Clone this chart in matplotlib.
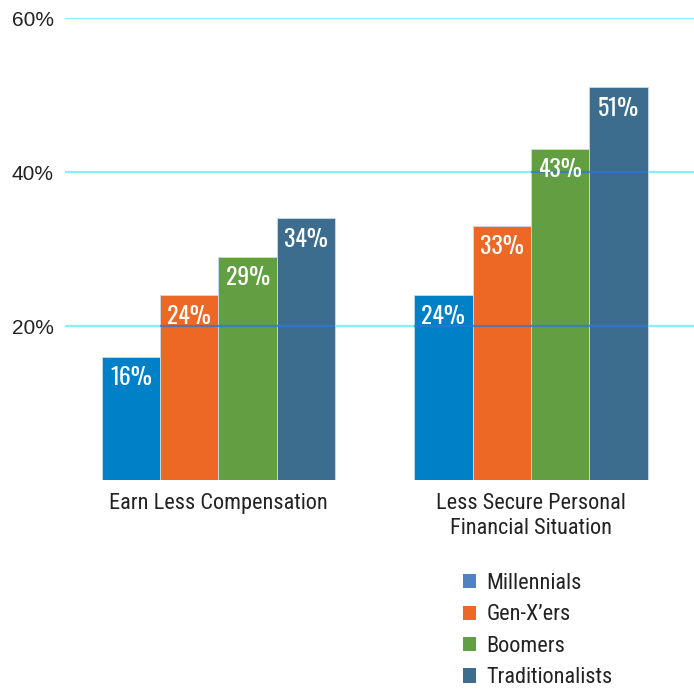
import matplotlib
matplotlib.use("Agg")
import matplotlib.pyplot as plt
from matplotlib.patches import Patch
import numpy as np

# Survey data: share of respondents by generation
categories = ["Earn Less Compensation", "Less Secure Personal\nFinancial Situation"]
generations = ["Millennials", "Gen-X\u2019ers", "Boomers", "Traditionalists"]
millennials = [16, 24]
gen_x = [24, 33]
boomers = [29, 43]
traditionalists = [34, 51]
yticks = [20, 40, 60]
ytick_labels = ["20%", "40%", "60%"]

series = [millennials, gen_x, boomers, traditionalists]
bar_colors = ["#0080c6", "#ec6824", "#629e42", "#3d6d8e"]
legend_colors = ["#4f81c7", "#ec6824", "#629e42", "#3d6d8e"]

label_font = ["Roboto Condensed", "DejaVu Sans"]
value_font = ["Oswald", "Roboto Condensed", "DejaVu Sans"]
tick_font = ["Liberation Sans", "DejaVu Sans"]
text_color = "#222222"

fig = plt.figure(figsize=(6.94, 6.89), dpi=100)
ax = fig.add_axes([65 / 694, 1 - 480 / 689, 1 - 65 / 694, (480 - 18) / 689])

x = np.arange(len(categories))
width = 0.187
offsets = (np.arange(len(series)) - 1.5) * width

containers = []
for vals, off, col in zip(series, offsets, bar_colors):
    bc = ax.bar(x + off, vals, width=width, color=col, edgecolor="#c9dcea",
                linewidth=0.6, zorder=2)
    containers.append(bc)
    for rect, v in zip(bc, vals):
        ax.annotate(f"{v}%", (rect.get_x() + rect.get_width() / 2, v),
                    xytext=(0, -15), textcoords="offset points",
                    ha="center", va="center", color="white", fontsize=17,
                    fontweight="bold", family=value_font, zorder=4)

ax.set_ylim(0, 60)
ax.set_xlim(-0.491, 1.5216)

# gridlines: light cyan behind, tinted where they cross the bars
for yv in yticks:
    ax.axhline(yv, color="#84f2f5", linewidth=1.6, zorder=1)
    for c in containers:
        for r in c:
            if r.get_height() >= yv:
                ax.hlines(yv, r.get_x(), r.get_x() + r.get_width(),
                          color="#2a78d8", alpha=0.75, linewidth=1.6, zorder=3)

ax.set_yticks(yticks)
ax.set_yticklabels(ytick_labels, family=tick_font, fontsize=15, color=text_color)
ax.tick_params(axis="y", length=0, pad=8)
ax.set_xticks(x)
ax.set_xticklabels(categories, family=label_font, fontsize=16, color=text_color,
                   linespacing=1.22)
ax.tick_params(axis="x", length=0, pad=9.5)
for s in ax.spines.values():
    s.set_visible(False)

handles = [Patch(facecolor=c, edgecolor="none") for c in legend_colors]
fig.legend(handles, generations, loc="upper left",
           bbox_to_anchor=(463 / 694, 1 - 573 / 689), frameon=False,
           borderpad=0, borderaxespad=0,
           prop={"family": label_font, "size": 16}, handlelength=0.6,
           handleheight=0.6, handletextpad=0.45, labelspacing=0.47,
           labelcolor=text_color)

fig.savefig("out.png", dpi=100)
